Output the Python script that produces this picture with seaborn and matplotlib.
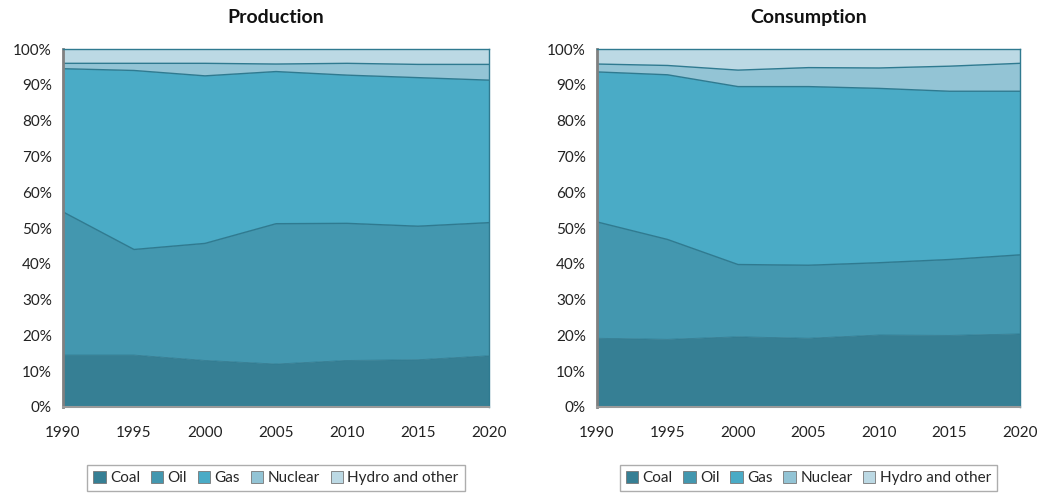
import numpy as np
import pandas as pd
import matplotlib
matplotlib.use("Agg")
import matplotlib.pyplot as plt
from matplotlib.patches import Patch
import seaborn as sns

years = [1990, 1995, 2000, 2005, 2010, 2015, 2020]
sources = ["Coal", "Oil", "Gas", "Nuclear", "Hydro and other"]

prod_coal = [14.5, 14.5, 13.0, 12.0, 13.0, 13.2, 14.3]
prod_oil = [40.0, 29.5, 32.7, 39.2, 38.3, 37.3, 37.2]
prod_gas = [40.0, 50.0, 46.8, 42.5, 41.4, 41.5, 39.8]
prod_nuclear = [1.5, 2.0, 3.5, 2.1, 3.3, 3.7, 4.4]
prod_hydro = [4.0, 4.0, 4.0, 4.2, 4.0, 4.3, 4.3]

cons_coal = [19.2, 18.9, 19.6, 19.2, 20.1, 20.0, 20.4]
cons_oil = [32.5, 27.9, 20.2, 20.4, 20.2, 21.2, 22.1]
cons_gas = [41.9, 46.0, 49.7, 49.9, 48.7, 47.0, 45.7]
cons_nuclear = [2.2, 2.6, 4.6, 5.3, 5.7, 7.0, 7.8]
cons_hydro = [4.2, 4.6, 5.9, 5.2, 5.3, 4.8, 4.0]

colors = ["#367f94", "#4397af", "#4aabc6", "#93c4d5", "#bcd9e4"]
edge = "#2f7a90"

sns.set_theme(style="white")
plt.rcParams["font.family"] = ["Lato", "DejaVu Sans"]

fig = plt.figure(figsize=(10.39, 4.93), dpi=100)
ax1 = fig.add_axes([63/1039, 86/493, 426/1039, 358/493])
ax2 = fig.add_axes([597/1039, 86/493, 423/1039, 358/493])

panels = [
    (ax1, "Production", [prod_coal, prod_oil, prod_gas, prod_nuclear, prod_hydro]),
    (ax2, "Consumption", [cons_coal, cons_oil, cons_gas, cons_nuclear, cons_hydro]),
]

for ax, title, series in panels:
    df = pd.DataFrame({s: v for s, v in zip(sources, series)}, index=years)
    cum = df.cumsum(axis=1)
    ax.stackplot(years, *[df[s].values for s in sources], colors=colors,
                 edgecolor="none", linewidth=0)
    for s in sources[:-1]:
        lw = 0.6 if s == "Coal" else 1.0
        sns.lineplot(x=years, y=cum[s].values, ax=ax, color=edge, linewidth=lw)
    ax.set_xlim(1990, 2020)
    ax.set_ylim(0, 100)
    ax.set_xticks(years)
    ax.set_xticklabels([str(y) for y in years], fontsize=11, color="#222222")
    ax.set_yticks(range(0, 101, 10))
    ax.set_yticklabels([f"{v}%" for v in range(0, 101, 10)], fontsize=11, color="#222222")
    ax.tick_params(axis="x", pad=14, length=0)
    ax.tick_params(axis="y", pad=8, length=0)
    ax.set_title(title, fontsize=14, fontweight="bold", pad=19, color="#111111")
    for side in ["top", "right"]:
        ax.spines[side].set_color(edge)
        ax.spines[side].set_linewidth(1.0)
    ax.spines["left"].set_color("#808080")
    ax.spines["left"].set_linewidth(2.0)
    ax.spines["bottom"].set_color("#9a9a9a")
    ax.spines["bottom"].set_linewidth(1.5)
    handles = [Patch(facecolor=c, edgecolor="#777777", linewidth=0.6) for c in colors]
    leg = ax.legend(handles, sources, loc="upper center", bbox_to_anchor=(0.5, -0.14),
                    ncol=5, frameon=True, fontsize=11, handlelength=0.8, handleheight=0.8,
                    handletextpad=0.3, columnspacing=0.7, borderpad=0.4, fancybox=False)
    leg.get_frame().set_edgecolor("#999999")
    leg.get_frame().set_linewidth(1.0)

fig.savefig("out.png", dpi=100)
